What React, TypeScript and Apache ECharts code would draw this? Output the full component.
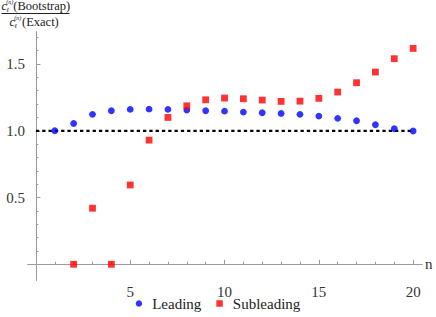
import React, { useEffect, useRef } from "react";
import * as echarts from "echarts";

const nValues = [1, 2, 3, 4, 5, 6, 7, 8, 9, 10, 11, 12, 13, 14, 15, 16, 17, 18, 19, 20];
const leading = [1.0, 1.055, 1.123, 1.15, 1.16, 1.162, 1.16, 1.155, 1.15, 1.147, 1.14, 1.135, 1.13, 1.123, 1.11, 1.093, 1.075, 1.045, 1.015, 0.998];
const subleadingN = [2, 3, 4, 5, 6, 7, 8, 9, 10, 11, 12, 13, 14, 15, 16, 17, 18, 19, 20];
const subleading = [0, 0.42, 0, 0.594, 0.93, 1.1, 1.187, 1.232, 1.245, 1.24, 1.23, 1.22, 1.222, 1.243, 1.29, 1.36, 1.44, 1.54, 1.617];
const xMajorTicks = [5, 10, 15, 20];
const xMinorTicks = [1, 2, 3, 4, 5, 6, 7, 8, 9, 10, 11, 12, 13, 14, 15, 16, 17, 18, 19, 20];
const yMajorTicks = [0.5, 1.0, 1.5];
const yMinorTicks = [0.1, 0.2, 0.3, 0.4, 0.5, 0.6, 0.7, 0.8, 0.9, 1.0, 1.1, 1.2, 1.3, 1.4, 1.5, 1.6, 1.7];
const referenceLine = [[0, 1], [20, 1]];

const SERIF = "'Liberation Serif', 'Times New Roman', serif";
const AXIS_COLOR = "#9a9a9a";
const TEXT_COLOR = "#333333";

export default function App() {
  const ref = useRef<HTMLDivElement>(null);
  useEffect(() => {
    if (!ref.current) return;
    const chart = echarts.init(ref.current, null, { renderer: "svg" });
    const xCommon = {
      type: "value",
      min: -0.42,
      max: 20.47,
      splitLine: { show: false },
      axisLine: { show: true, onZero: true, lineStyle: { color: AXIS_COLOR, width: 1 } },
    };
    const yCommon = {
      type: "value",
      min: -0.12,
      max: 1.74,
      splitLine: { show: false },
      axisLine: { show: true, onZero: true, lineStyle: { color: AXIS_COLOR, width: 1 } },
    };
    const txt = (x: number, y: number, text: string, size: number, italic = false) => ({
      type: "text",
      x,
      y,
      style: {
        text,
        fontSize: size,
        fontFamily: SERIF,
        fontStyle: italic ? "italic" : "normal",
        fill: "#222",
        align: "left",
        verticalAlign: "middle",
      },
    });
    chart.setOption({
      animation: false,
      grid: { left: 28, right: 14, top: 32, bottom: 36.7, containLabel: false },
      xAxis: [
        {
          ...xCommon,
          name: "n",
          nameLocation: "end",
          nameGap: 3,
          nameTextStyle: { fontSize: 15, fontFamily: SERIF, color: TEXT_COLOR, verticalAlign: "middle", padding: [6, 0, 0, 0] },
          axisTick: { show: true, inside: true, length: 4.5, customValues: xMajorTicks, lineStyle: { color: AXIS_COLOR } },
          axisLabel: { show: true, customValues: xMajorTicks, fontSize: 15, fontFamily: SERIF, color: TEXT_COLOR, margin: 4 },
        },
        {
          ...xCommon,
          position: "bottom",
          axisTick: { show: true, inside: true, length: 2.5, customValues: xMinorTicks, lineStyle: { color: AXIS_COLOR } },
          axisLabel: { show: false },
        },
      ],
      yAxis: [
        {
          ...yCommon,
          axisTick: { show: true, inside: true, length: 4.5, customValues: yMajorTicks, lineStyle: { color: AXIS_COLOR } },
          axisLabel: {
            show: true,
            customValues: yMajorTicks,
            fontSize: 15,
            fontFamily: SERIF,
            color: TEXT_COLOR,
            margin: 3,
            formatter: (v: number) => v.toFixed(1),
          },
        },
        {
          ...yCommon,
          position: "left",
          axisTick: { show: true, inside: true, length: 2.5, customValues: yMinorTicks, lineStyle: { color: AXIS_COLOR } },
          axisLabel: { show: false },
        },
      ],
      legend: {
        data: ["Leading", "Subleading"],
        left: "center",
        top: 291,
        itemWidth: 6.5,
        itemHeight: 6.5,
        itemGap: 15,
        textStyle: { fontSize: 15, fontFamily: SERIF, color: "#222", padding: [0, 0, 0, 5] },
      },
      graphic: [
        txt(1.5, 6, "c", 12.5, true),
        txt(6.3, 2.2, "(n)", 6, true),
        txt(6.6, 10, "ℓ", 6, true),
        txt(13.3, 6, "(Bootstrap)", 12.5),
        {
          type: "line",
          shape: { x1: 1.5, y1: 13.5, x2: 69.5, y2: 13.5 },
          style: { stroke: "#222", lineWidth: 1 },
        },
        txt(9.5, 21.5, "c", 12.5, true),
        txt(14.3, 17.7, "(n)", 6, true),
        txt(14.6, 25.5, "ℓ", 6, true),
        txt(22, 21.5, "(Exact)", 12.5),
      ],
      series: [
        {
          name: "ref",
          type: "line",
          data: referenceLine,
          symbol: "none",
          silent: true,
          lineStyle: { color: "#000", width: 2.3, type: [3.3, 3] },
          z: 1,
        },
        {
          name: "Leading",
          type: "scatter",
          symbol: "circle",
          symbolSize: 6.8,
          itemStyle: { color: "#0000ff" },
          data: nValues.map((n, i) => [n, leading[i]]),
          z: 3,
        },
        {
          name: "Subleading",
          type: "scatter",
          symbol: "rect",
          symbolSize: 6.8,
          itemStyle: { color: "#ff0000" },
          data: subleadingN.map((n, i) => [n, subleading[i]]),
          z: 4,
        },
      ],
    });
    return () => chart.dispose();
  }, []);
  return <div ref={ref} style={{ width: 436, height: 317, position: "absolute", left: 0, top: 0 }} />;
}
